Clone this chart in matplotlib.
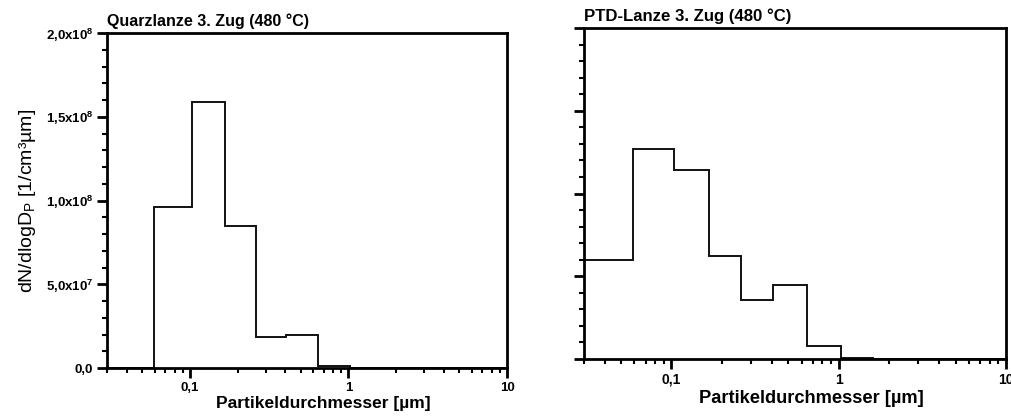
import matplotlib
matplotlib.use('Agg')
import matplotlib.pyplot as plt
from matplotlib.ticker import FixedLocator, MultipleLocator, FuncFormatter, LogLocator, NullFormatter

plt.rcParams['font.family'] = ['Liberation Sans', 'DejaVu Sans']
plt.rcParams['mathtext.fontset'] = 'custom'
plt.rcParams['mathtext.rm'] = 'Liberation Sans:bold'
plt.rcParams['mathtext.it'] = 'Liberation Sans'
plt.rcParams['mathtext.default'] = 'rm'

# impactor stage boundaries (um)
edges = [0.029, 0.059, 0.103, 0.167, 0.26, 0.405, 0.645, 1.03, 1.61, 2.46, 3.97, 6.69, 9.88]

# dN/dlogDp per stage, 1/(cm^3 um)
quarz = [0.0, 0.96e8, 1.59e8, 0.845e8, 0.185e8, 0.20e8, 0.014e8, 0.0, 0.0, 0.0, 0.0, 0.0]
ptd = [0.60e8, 1.27e8, 1.14e8, 0.625e8, 0.355e8, 0.445e8, 0.08e8, 0.008e8, 0.0, 0.0, 0.0, 0.0]

titles = ['Quarzlanze 3. Zug (480 °C)', 'PTD-Lanze 3. Zug (480 °C)']


def sci_comma(v, pos):
    if v == 0:
        return '0,0'
    exp = len(str(int(v))) - 1
    mant = v / 10 ** exp
    return ('%.1f' % mant).replace('.', ',') + 'x10$^{%d}$' % exp


def style_axes(ax, title, labels=True, scale=1.0):
    ax.set_xscale('log')
    ax.set_xlim(0.03, 10)
    ax.set_ylim(0, 2e8)
    for sp in ax.spines.values():
        sp.set_linewidth(2)
    ax.yaxis.set_major_locator(MultipleLocator(5e7))
    ax.yaxis.set_minor_locator(MultipleLocator(1e7))
    ax.xaxis.set_major_locator(FixedLocator([0.1, 1, 10]))
    ax.xaxis.set_minor_locator(LogLocator(base=10, subs=range(2, 10)))
    ax.xaxis.set_minor_formatter(NullFormatter())
    ax.xaxis.set_major_formatter(FuncFormatter(lambda v, p: {0.1: '0,1', 1: '1', 10: '10'}.get(round(v, 1), '')))
    ax.tick_params(which='major', direction='out', length=7, width=2, labelsize=9.5 * scale, pad=3)
    ax.tick_params(which='minor', direction='out', length=3.5, width=1.5)
    ax.tick_params(top=False, right=False)
    if labels:
        ax.yaxis.set_major_formatter(FuncFormatter(sci_comma))
    else:
        ax.yaxis.set_major_formatter(NullFormatter())
    ax.set_xlabel('Partikeldurchmesser [µm]', fontsize=12.5 * scale, fontweight='bold')
    ax.set_title(title, loc='left', fontsize=11.5 * scale, fontweight='bold', pad=5)


fig = plt.figure(figsize=(10.11, 4.2), dpi=100)
ax1 = fig.add_axes([0.1058, 0.1238, 0.3957, 0.7976])
ax2 = fig.add_axes([0.5776, 0.1452, 0.4174, 0.788])

ax1.stairs(quarz, edges, baseline=None, color='#111111', linewidth=1.4)
ax2.stairs(ptd, edges, baseline=None, color='#111111', linewidth=1.4)

style_axes(ax1, titles[0], labels=True)
style_axes(ax2, titles[1], labels=False, scale=1.05)
for lab in ax1.get_xticklabels() + ax1.get_yticklabels() + ax2.get_xticklabels():
    lab.set_fontweight('bold')

ax1.xaxis.set_label_coords(0.54, -0.083)
ax2.xaxis.set_label_coords(0.54, -0.095)
ax1.set_ylabel('dN/dlogD$_\\mathit{P}$ [1/cm³µm]', fontsize=14)
ax1.yaxis.set_label_coords(-0.172, 0.5)

fig.savefig('out.png', dpi=100)
